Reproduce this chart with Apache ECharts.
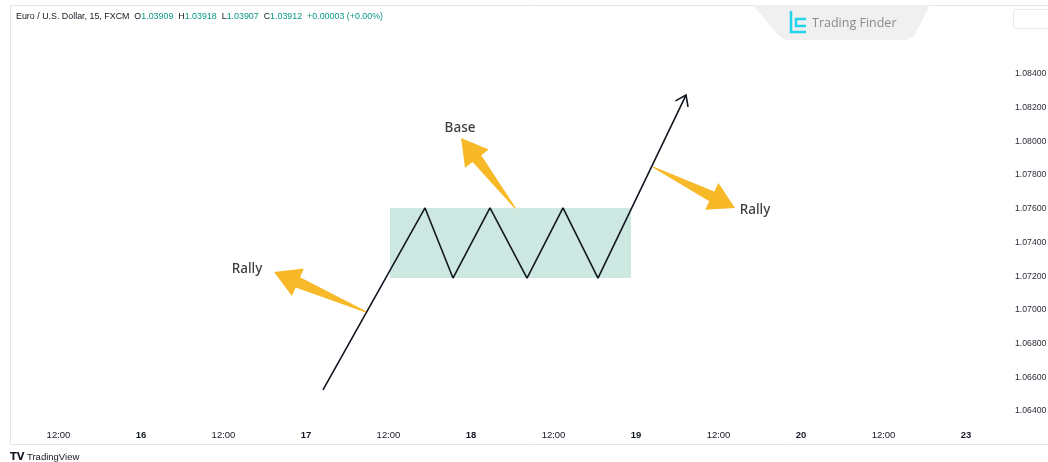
<!DOCTYPE html>
<html>
<head>
<meta charset="utf-8">
<script src="https://cdn.jsdelivr.net/npm/echarts@6/dist/echarts.min.js"></script>
<style>
html,body{margin:0;padding:0;background:#ffffff;}
#chart{width:1048px;height:462px;}
</style>
</head>
<body>
<div id="chart"></div>
<script>
// ---- data (time axis in trading hours since 15th 00:00; weekend skipped) ----
const xTickValues = [12, 24, 36, 48, 60, 72, 84, 96, 108, 120, 132, 144];
const xTickLabels = ['12:00', '16', '12:00', '17', '12:00', '18', '12:00', '19', '12:00', '20', '12:00', '23'];
const dayLabels = ['16', '17', '18', '19', '20', '23'];
const yTickValues = [1.064, 1.066, 1.068, 1.070, 1.072, 1.074, 1.076, 1.078, 1.080, 1.082, 1.084];

const priceX = [50.47, 65.31, 69.38, 74.76, 80.15, 85.38, 90.47, 103.27];
const priceY = [1.06525, 1.07605, 1.07189, 1.07605, 1.07189, 1.07605, 1.07189, 1.08275];

const baseZoneX = [60.22, 95.27];
const baseZoneY = [1.07189, 1.07605];

const arrowTailX = [56.73, 78.40, 98.47];
const arrowTailY = [1.06988, 1.07605, 1.07848];
const arrowTipX = [43.35, 70.55, 110.40];
const arrowTipY = [1.07225, 1.08020, 1.07605];

const noteText = ['Rally', 'Base', 'Rally'];
const noteX = [39.42, 70.40, 113.31];
const noteY = [1.07243, 1.08080, 1.07593];

const header = {
  title: 'Euro / U.S. Dollar, 15, FXCM',
  o: '1.03909', h: '1.03918', l: '1.03907', c: '1.03912', chg: '+0.00003 (+0.00%)'
};

// ---- build ----
const lineData = priceX.map((x, i) => [x, priceY[i]]);
const arrowData = arrowTailX.map((x, i) => [x, arrowTailY[i], arrowTipX[i], arrowTipY[i]]);
const n = priceX.length;
const lineHeadData = [[priceX[n - 2], priceY[n - 2], priceX[n - 1], priceY[n - 1]]];
const noteData = noteX.map((x, i) => ({ value: [x, noteY[i]], name: noteText[i] }));

const chart = echarts.init(document.getElementById('chart'), null, { renderer: 'canvas' });

const FONT = 'Liberation Sans, Arial, sans-serif';

const option = {
  animation: false,
  backgroundColor: '#ffffff',
  grid: { left: 10, right: 43, top: 5, bottom: 38, containLabel: false, outerBoundsMode: 'none' },
  xAxis: {
    type: 'value',
    min: 4.945,
    max: 149.67,
    splitLine: { show: false },
    axisLine: { show: false },
    axisTick: { show: false },
    axisLabel: {
      customValues: xTickValues,
      margin: 6,
      fontSize: 9.5,
      fontFamily: FONT,
      color: '#131722',
      formatter: function (v) {
        let idx = -1;
        for (let i = 0; i < xTickValues.length; i++) { if (Math.abs(xTickValues[i] - v) < 1e-6) idx = i; }
        if (idx < 0) return '';
        const t = xTickLabels[idx];
        return dayLabels.indexOf(t) >= 0 ? '{d|' + t + '}' : t;
      },
      rich: { d: { fontWeight: 'bold', fontSize: 9.5, fontFamily: FONT, color: '#131722' } }
    }
  },
  yAxis: {
    type: 'value',
    position: 'right',
    min: 1.063228,
    max: 1.088095,
    scale: true,
    splitLine: { show: false },
    axisLine: { show: false },
    axisTick: { show: false },
    axisLabel: {
      customValues: yTickValues,
      inside: false,
      margin: 10,
      fontSize: 8.7,
      fontFamily: FONT,
      color: '#2a2e39',
      formatter: function (v) { return v.toFixed(5); }
    }
  },
  series: [
    {
      type: 'custom',
      name: 'base zone',
      z: 1,
      silent: true,
      clip: false,
      data: [[baseZoneX[0], baseZoneY[0], baseZoneX[1], baseZoneY[1]]],
      renderItem: function (params, api) {
        const p0 = api.coord([api.value(0), api.value(3)]);
        const p1 = api.coord([api.value(2), api.value(1)]);
        return {
          type: 'rect',
          shape: { x: p0[0], y: p0[1], width: p1[0] - p0[0], height: p1[1] - p0[1] },
          style: { fill: '#cde8e1' }
        };
      }
    },
    {
      type: 'line',
      name: 'price',
      z: 3,
      data: lineData,
      symbol: 'none',
      silent: true,
      lineStyle: { color: '#131722', width: 1.6 }
    },
    {
      type: 'custom',
      name: 'line head',
      z: 3,
      silent: true,
      clip: false,
      data: lineHeadData,
      renderItem: function (params, api) {
        const a = api.coord([api.value(0), api.value(1)]);
        const b = api.coord([api.value(2), api.value(3)]);
        const dx = b[0] - a[0], dy = b[1] - a[1];
        const L = Math.sqrt(dx * dx + dy * dy);
        const ux = dx / L, uy = dy / L;
        const len = 12, ang = 0.62;
        const c = Math.cos(ang), s = Math.sin(ang);
        const l1 = [b[0] - len * (ux * c - uy * s), b[1] - len * (uy * c + ux * s)];
        const l2 = [b[0] - len * (ux * c + uy * s), b[1] - len * (uy * c - ux * s)];
        return {
          type: 'polyline',
          shape: { points: [l1, b, l2] },
          style: { stroke: '#131722', lineWidth: 1.6, fill: null }
        };
      }
    },
    {
      type: 'custom',
      name: 'arrows',
      z: 4,
      silent: true,
      clip: false,
      data: arrowData,
      renderItem: function (params, api) {
        const t = api.coord([api.value(0), api.value(1)]);
        const h = api.coord([api.value(2), api.value(3)]);
        const dx = h[0] - t[0], dy = h[1] - t[1];
        const L = Math.sqrt(dx * dx + dy * dy);
        const ux = dx / L, uy = dy / L;
        const nx = -uy, ny = ux;
        const headLen = 26, headHalf = 15, shaftHalf = 5.5, tailHalf = 0.6;
        const b = [h[0] - ux * headLen, h[1] - uy * headLen];
        const pts = [
          [t[0] + nx * tailHalf, t[1] + ny * tailHalf],
          [b[0] + nx * shaftHalf, b[1] + ny * shaftHalf],
          [b[0] + nx * headHalf, b[1] + ny * headHalf],
          h,
          [b[0] - nx * headHalf, b[1] - ny * headHalf],
          [b[0] - nx * shaftHalf, b[1] - ny * shaftHalf],
          [t[0] - nx * tailHalf, t[1] - ny * tailHalf]
        ];
        return { type: 'polygon', shape: { points: pts }, style: { fill: '#f7b928' } };
      }
    },
    {
      type: 'scatter',
      name: 'notes',
      z: 5,
      silent: true,
      symbolSize: 1,
      itemStyle: { color: 'rgba(0,0,0,0)' },
      data: noteData,
      label: {
        show: true,
        position: 'inside',
        formatter: '{b}',
        fontSize: 13.5,
        fontWeight: 500,
        fontFamily: 'Noto Sans, Open Sans, sans-serif',
        color: '#0b0b0b'
      }
    }
  ],
  graphic: [
    {
      type: 'rect', silent: true, z: 0,
      shape: { x: 10.5, y: 5.5, width: 1100, height: 439 },
      style: { fill: 'none', stroke: '#e3e5ea', lineWidth: 1 }
    },
    {
      type: 'text', silent: true, left: 16, top: 12,
      style: {
        text: '{t|' + header.title + '}  {t|O}{g|' + header.o + '}  {t|H}{g|' + header.h + '}  {t|L}{g|' + header.l + '}  {t|C}{g|' + header.c + '}  {g|' + header.chg + '}',
        font: '8.9px ' + FONT,
        rich: {
          t: { fill: '#131722', fontSize: 8.9, fontFamily: FONT },
          g: { fill: '#089981', fontSize: 8.9, fontFamily: FONT }
        }
      }
    },
    {
      type: 'polygon', silent: true,
      shape: { points: [[753, 5], [930, 5], [914, 36], [907, 40], [786, 40], [779, 36]] },
      style: { fill: '#f0f0f0' }
    },
    {
      type: 'polyline', silent: true,
      shape: { points: [[791, 11], [791, 32], [806, 32]] },
      style: { stroke: '#22d4ea', lineWidth: 2.5, fill: null }
    },
    {
      type: 'polyline', silent: true,
      shape: { points: [[806, 19], [796, 19], [796, 26], [806, 26]] },
      style: { stroke: '#22d4ea', lineWidth: 2.5, fill: null }
    },
    {
      type: 'text', silent: true, left: 812, top: 17,
      style: { text: 'Trading Finder', font: '12.5px Open Sans, sans-serif', fill: '#8a8a8a' }
    },
    {
      type: 'rect', silent: true,
      shape: { x: 1013.5, y: 9.5, width: 60, height: 19, r: 3 },
      style: { fill: '#ffffff', stroke: '#e8e8e8', lineWidth: 1 }
    },
    {
      type: 'text', silent: true, left: 10, top: 452,
      style: { text: 'TV', font: 'bold 10px DejaVu Sans, sans-serif', fill: '#131722' }
    },
    {
      type: 'text', silent: true, left: 27, top: 452,
      style: { text: 'TradingView', font: '9.5px ' + FONT, fill: '#131722' }
    }
  ]
};

chart.setOption(option);
</script>
</body>
</html>
